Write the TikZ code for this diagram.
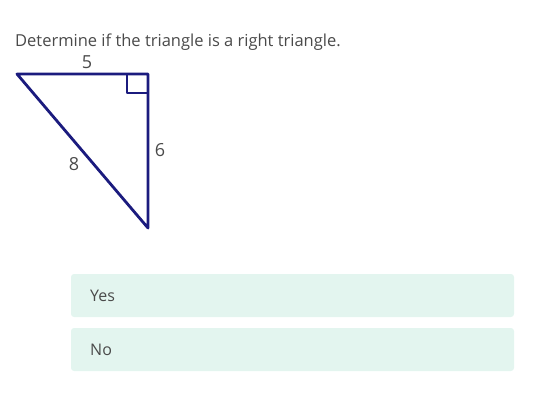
\documentclass[tikz,border=0pt]{standalone}
\usepackage{fontspec}
\setmainfont{Open Sans}
\definecolor{navyline}{HTML}{1B1B7E}
\definecolor{inkgray}{HTML}{4A4A4A}
\definecolor{mintbox}{HTML}{E3F5EF}
\tikzset{
  side/.style={navyline, line width=2.8pt, line join=round},
  sidelabel/.style={text=inkgray, font=\fontsize{18}{18}\selectfont, inner sep=0pt},
  choice/.style={fill=mintbox, rounded corners=3pt, minimum width=443pt, minimum height=43pt, inner sep=0pt},
  choicetext/.style={text=inkgray, font=\fontsize{16}{16}\selectfont, anchor=west, inner sep=0pt}
}
\begin{document}
\begin{tikzpicture}[x=1pt,y=-1pt]
		\useasboundingbox (0,0) rectangle (543,405);
		\node[text=inkgray, font=\fontsize{16.5}{16.5}\selectfont, anchor=base west, inner sep=0pt] (question) at (15,46) {Determine if the triangle is a right triangle.};
		% triangle
		\coordinate (A) at (17,74);
		\coordinate (C) at (148,74);
		\coordinate (B) at (148,228);
		\draw[side] (A)--(C)--(B)--cycle;
		\draw[side] (127,74)--(127,93)--(148,93);
		\node[sidelabel] (top) at (87,62) {5};
		\node[sidelabel] (right) at (160,150) {6};
		\node[sidelabel] (hyp) at (74,164) {8};
		% answers
		\node[choice] (yes) at (292.5,295.5) {};
		\node[choice] (no) at (292.5,349.5) {};
		\node[choicetext] (yestext) at (90,296) {Yes};
		\node[choicetext] (notext) at (90,350) {No};
\end{tikzpicture}
\end{document}
